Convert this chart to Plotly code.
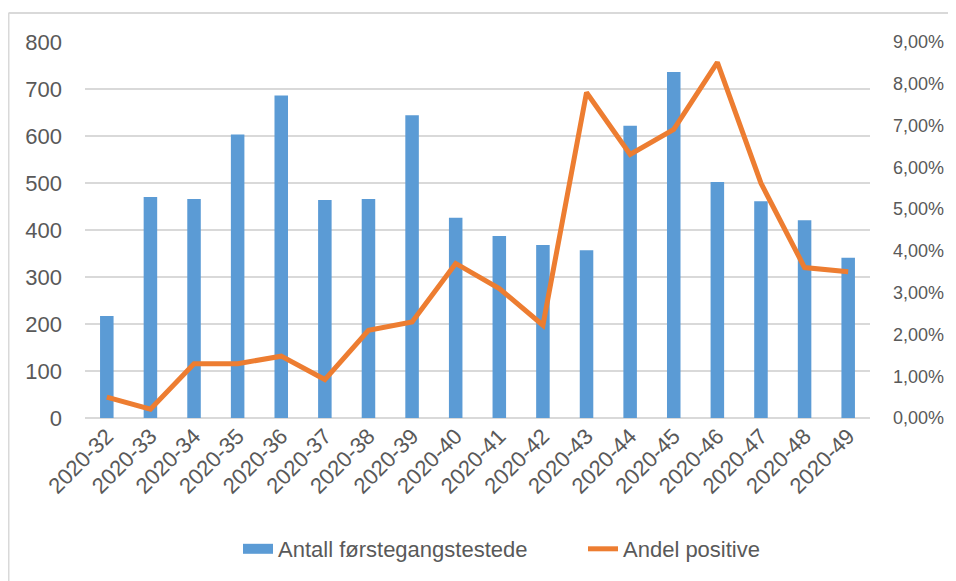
import plotly.graph_objects as go

weeks = ["2020-32", "2020-33", "2020-34", "2020-35", "2020-36", "2020-37",
         "2020-38", "2020-39", "2020-40", "2020-41", "2020-42", "2020-43",
         "2020-44", "2020-45", "2020-46", "2020-47", "2020-48", "2020-49"]
antall = [217, 470, 466, 603, 686, 464, 466, 644, 426, 387, 368, 357,
          622, 736, 502, 461, 421, 341]
andel = [0.0050, 0.0021, 0.0130, 0.0130, 0.0148, 0.0092, 0.0210, 0.0230,
         0.0370, 0.0310, 0.0222, 0.0779, 0.0631, 0.0691, 0.0851, 0.0562,
         0.0360, 0.0350]

FONT = "Liberation Sans, Arial, sans-serif"
GRAY = "#595959"
GRID = "#d9d9d9"
BLUE = "#5B9BD5"
ORANGE = "#ED7D31"

fig = go.Figure()
fig.add_trace(go.Bar(x=weeks, y=antall, name="Antall førstegangstestede",
                     marker=dict(color=BLUE, line=dict(width=0)),
                     yaxis="y", showlegend=False))
# legend stand-in for the bar series (wide rectangle swatch like the original)
fig.add_trace(go.Scatter(x=[None], y=[None], name="Antall førstegangstestede",
                         mode="lines", line=dict(color=BLUE, width=14),
                         yaxis="y", showlegend=True))
fig.add_trace(go.Scatter(x=weeks, y=andel, name="Andel positive",
                         mode="lines", line=dict(color=ORANGE, width=5),
                         yaxis="y2"))

# page body has an 8px margin; figure is sized to fit the 956x581 window
OFF = 8
W, H = 956 - OFF, 581 - OFF
L, T = 85 - OFF, 42 - OFF
R = W - (870 - OFF)
B = H - (418 - OFF)
pw, ph = W - L - R, H - T - B

def px_x(x):
    return (x - OFF - L) / pw

def px_y(y):
    return (H - B - (y - OFF)) / ph

fig.update_layout(
    width=W, height=H,
    margin=dict(l=L, r=R, t=T, b=B, pad=0, autoexpand=False),
    paper_bgcolor="white", plot_bgcolor="white",
    font=dict(family=FONT, size=22, color=GRAY),
    separators=", ",
    bargap=0.69,
    showlegend=True,
    legend=dict(orientation="h", x=px_x(238), xanchor="left",
                y=px_y(549), yanchor="middle",
                entrywidth=300, entrywidthmode="pixels",
                font=dict(family=FONT, size=22, color=GRAY),
                traceorder="normal"),
    xaxis=dict(type="category", tickangle=-45, showgrid=False,
               showline=False, ticks="", zeroline=False, automargin=False,
               tickfont=dict(family=FONT, size=22, color=GRAY)),
    yaxis=dict(range=[0, 800], dtick=100, showgrid=True, gridcolor=GRID,
               gridwidth=1.5, zeroline=True, zerolinecolor=GRID,
               zerolinewidth=1.5, showline=False, ticks="", automargin=False,
               ticklabelstandoff=22,
               tickfont=dict(family=FONT, size=22, color=GRAY)),
    yaxis2=dict(range=[0, 0.09], dtick=0.01, tickformat=".2%",
                overlaying="y", side="right", showgrid=False,
                zeroline=False, showline=False, ticks="", automargin=False,
                ticklabelstandoff=22,
                tickfont=dict(family=FONT, size=18, color=GRAY)),
    shapes=[
        dict(type="line", xref="paper", yref="paper",
             x0=px_x(8.5), x1=px_x(8.5), y0=px_y(13), y1=px_y(600),
             line=dict(color=GRID, width=2)),
        dict(type="line", xref="paper", yref="paper",
             x0=px_x(8.5), x1=px_x(970), y0=px_y(13), y1=px_y(13),
             line=dict(color=GRID, width=2)),
    ],
)

fig.write_html("out.html")
